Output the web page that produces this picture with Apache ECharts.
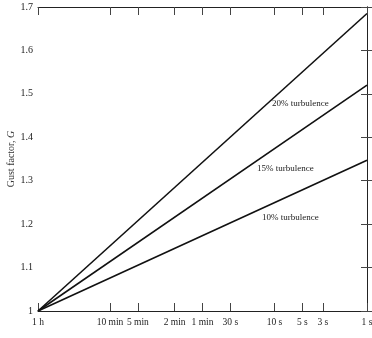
<!DOCTYPE html>
<html>
<head>
<meta charset="utf-8">
<script src="https://cdn.jsdelivr.net/npm/echarts@6/dist/echarts.min.js"></script>
<style>
  html, body { margin: 0; padding: 0; background: #fff; }
  #chart { width: 372px; height: 338px; }
</style>
</head>
<body>
<div id="chart"></div>
<script>
// durations in seconds, from 1 h down to 1 s
const tickSeconds = [3600, 600, 300, 120, 60, 30, 10, 5, 3, 1];
const tickLabels = ["1 h", "10 min", "5 min", "2 min", "1 min", "30 s", "10 s", "5 s", "3 s", "1 s"];
const yTicks = [1.0, 1.1, 1.2, 1.3, 1.4, 1.5, 1.6, 1.7];
const lineSeconds = [3600, 1];
const g20 = [1.0, 1.685];
const g15 = [1.0, 1.52];
const g10 = [1.0, 1.347];
const seriesNames = ["20% turbulence", "15% turbulence", "10% turbulence"];

const font = "Liberation Serif";
const lg = (s) => Math.log10(s);
const xMax = lg(3600);

const labelFor = (v) => {
    const idx = tickSeconds.findIndex((s) => Math.abs(lg(s) - v) < 1e-6);
    return idx >= 0 ? tickLabels[idx] : "";
};

const chart = echarts.init(document.getElementById("chart"));

const xBase = {
    type: "value",
    inverse: true,
    min: 0,
    max: xMax,
    splitLine: { show: false },
    axisLine: { lineStyle: { color: "#222", width: 1 } },
    axisTick: { inside: true, length: 8, lineStyle: { color: "#444" }, customValues: tickSeconds.map(lg) },
};
const yBase = {
    type: "value",
    min: 1,
    max: 1.7,
    interval: 0.1,
    splitLine: { show: false },
    axisLine: { show: true, lineStyle: { color: "#222", width: 1 } },
    axisTick: { inside: true, length: 6, lineStyle: { color: "#444" } },
};

const makeLine = (name, vals) => ({
    name: name,
    type: "line",
    symbol: "none",
    animation: false,
    lineStyle: { color: "#111", width: 1.6 },
    data: lineSeconds.map((s, i) => [lg(s), vals[i]]),
});

chart.setOption({
    backgroundColor: "#fff",
    grid: { left: 38, right: 5, top: 7, bottom: 27, outerBoundsMode: "none", containLabel: false },
    xAxis: [
        {
            ...xBase,
            position: "bottom",
            axisLabel: {
                customValues: tickSeconds.map(lg),
                formatter: labelFor,
                fontFamily: font,
                fontSize: 9.5,
                color: "#222",
                margin: 6,
            },
        },
        { ...xBase, position: "top", axisLabel: { show: false } },
    ],
    yAxis: [
        {
            ...yBase,
            position: "left",
            name: "Gust factor, {i|G}",
            nameLocation: "middle",
            nameGap: 22,
            nameMoveOverlap: false,
            nameTextStyle: {
                fontFamily: font,
                fontSize: 10,
                color: "#333",
                rich: { i: { fontFamily: font, fontSize: 10, fontStyle: "italic", color: "#333" } },
            },
            axisLabel: {
                fontFamily: font,
                fontSize: 10,
                color: "#222",
                margin: 5,
                formatter: (v) => (Math.abs(v - 1) < 1e-6 ? "1" : v.toFixed(1)),
            },
        },
        { ...yBase, position: "right", axisLabel: { show: false } },
    ],
    series: [makeLine(seriesNames[0], g20), makeLine(seriesNames[1], g15), makeLine(seriesNames[2], g10)],
    graphic: [
        { type: "text", left: 272, top: 99, style: { text: seriesNames[0], font: "9px " + font, fill: "#222" } },
        { type: "text", left: 257, top: 164, style: { text: seriesNames[1], font: "9px " + font, fill: "#222" } },
        { type: "text", left: 262, top: 213, style: { text: seriesNames[2], font: "9px " + font, fill: "#222" } },
    ],
});
</script>
</body>
</html>
